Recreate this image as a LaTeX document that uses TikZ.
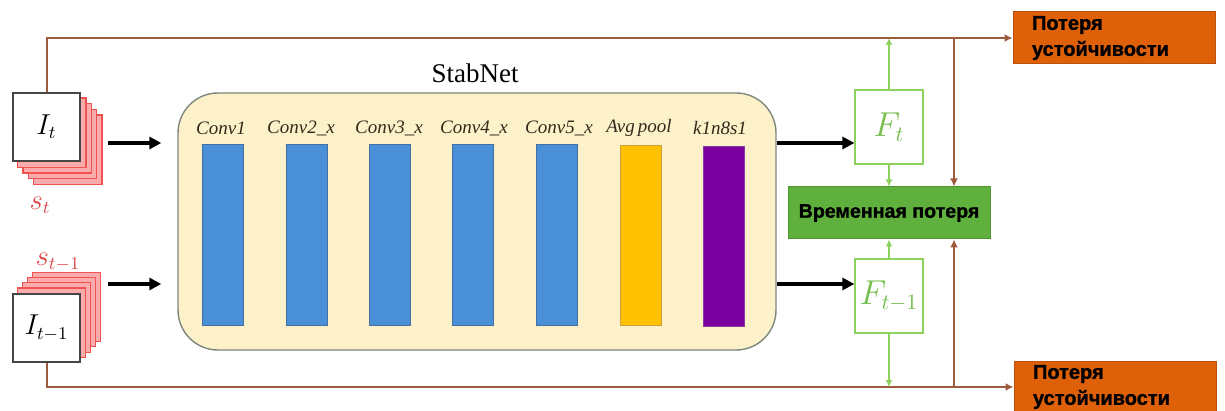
\documentclass[tikz,border=0pt]{standalone}
\usepackage{fontspec}
\setmainfont{Liberation Serif}
\newfontfamily\rusfont{Liberation Sans}[BoldFeatures={FakeBold=1.2}]
\usetikzlibrary{arrows.meta,backgrounds,calc}

\definecolor{brownline}{RGB}{156,92,60}
\definecolor{lossorange}{RGB}{222,96,8}
\definecolor{lossedge}{RGB}{190,80,10}
\definecolor{tgreen}{RGB}{96,176,62}
\definecolor{tgreenedge}{RGB}{80,150,50}
\definecolor{lgreen}{RGB}{140,210,92}
\definecolor{ftext}{RGB}{118,190,78}
\definecolor{barblue}{RGB}{74,144,217}
\definecolor{bluedge}{RGB}{70,110,160}
\definecolor{baryellow}{RGB}{255,192,0}
\definecolor{yellowedge}{RGB}{205,160,60}
\definecolor{barpurple}{RGB}{122,0,160}
\definecolor{purpleedge}{RGB}{140,60,160}
\definecolor{stabfill}{RGB}{253,241,202}
\definecolor{stabedge}{RGB}{125,135,125}
\definecolor{stackfill}{RGB}{250,172,172}
\definecolor{stackedge}{RGB}{240,82,82}
\definecolor{imgedge}{RGB}{70,70,70}
\definecolor{slabel}{RGB}{220,70,70}
\definecolor{convtext}{RGB}{50,42,25}

\tikzset{
  imgbox/.style={draw=imgedge, fill=white, line width=0.7pt, minimum width=33.5pt,
    minimum height=34pt, inner sep=0pt, font=\fontsize{13.5}{13.5}\selectfont},
  stacksheet/.style={draw=stackedge, fill=stackfill, line width=0.6pt},
  stabbox/.style={draw=stabedge, fill=stabfill, line width=0.7pt, rounded corners=20pt,
    minimum width=299pt, minimum height=128.5pt, inner sep=0pt},
  bar/.style={minimum width=20.5pt, minimum height=90pt, inner sep=0pt, line width=0.5pt},
  convlbl/.style={font=\itshape\fontsize{9.5}{10}\selectfont, text=convtext, inner sep=0pt},
  featbox/.style={draw=lgreen, fill=white, line width=0.6pt, minimum width=34pt,
    minimum height=37pt, inner sep=0pt, text=ftext, font=\fontsize{16}{16}\selectfont},
  temploss/.style={fill=tgreen, draw=tgreenedge, line width=0.5pt, minimum width=101pt,
    minimum height=26pt, inner sep=0pt, font=\rusfont\bfseries\fontsize{9.8}{11}\selectfont},
  lossbox/.style={fill=lossorange, draw=lossedge, line width=0.5pt, minimum height=26pt,
    text width=82pt, inner xsep=9.5pt, inner ysep=1.5pt, align=left,
    font=\rusfont\bfseries\fontsize{10}{13}\selectfont},
  feed/.style={line width=1.6pt, -{Triangle[length=6pt,width=6pt]}},
  brownarrow/.style={draw=brownline, line width=1pt, -{Latex[length=4pt,width=4pt]}},
  greenarrow/.style={draw=lgreen, line width=0.9pt, -{Latex[length=3.5pt,width=3.5pt]}},
  slbl/.style={text=slabel, font=\fontsize{13.5}{13.5}\selectfont, inner sep=0pt},
}

\begin{document}
\begin{tikzpicture}[x=0.5pt,y=-0.5pt]
\useasboundingbox (0,0) rectangle (1225,411);

% input frames with their saliency stacks
\node[imgbox] (It) at (46.5,127) {$I_t$};
\node[imgbox] (Itm) at (46.5,328) {$I_{t-1}$};
\begin{scope}[on background layer]
  \foreach \k in {4,3,2,1}
    \draw[stacksheet] ([shift={(\k*5.3,\k*5.7)}]It.north west) rectangle ([shift={(\k*5.3,\k*5.7)}]It.south east);
  \foreach \k in {4,3,2,1}
    \draw[stacksheet] ([shift={(\k*5,-\k*5.3)}]Itm.north west) rectangle ([shift={(\k*5,-\k*5.3)}]Itm.south east);
\end{scope}
\node[slbl] (st) at (40,205) {$s_t$};
\node[slbl] (stm) at (58,262) {$s_{t-1}$};

% StabNet backbone
\node[stabbox] (stab) at (477,221.5) {};
\node[font=\fontsize{13.5}{14}\selectfont, inner sep=0pt] (stabname) at (475,73) {StabNet};

\node[bar, fill=barblue, draw=bluedge] (c1) at (222.5,235) {};
\node[bar, fill=barblue, draw=bluedge] (c2) at (306.5,235) {};
\node[bar, fill=barblue, draw=bluedge] (c3) at (389.5,235) {};
\node[bar, fill=barblue, draw=bluedge] (c4) at (473,235) {};
\node[bar, fill=barblue, draw=bluedge] (c5) at (557,235) {};
\node[bar, fill=baryellow, draw=yellowedge] (ap) at (641,235.5) {};
\node[bar, fill=barpurple, draw=purpleedge] (kn) at (724,236.5) {};

\node[convlbl] (l1) at (221,128) {Conv1};
\node[convlbl] (l2) at (301,128) {Conv2\_x};
\node[convlbl] (l3) at (389,128) {Conv3\_x};
\node[convlbl] (l4) at (474,128) {Conv4\_x};
\node[convlbl] (l5) at (559,128) {Conv5\_x};
\node[convlbl] (l6) at (639,128) {Avg\,pool};
\node[convlbl] (l7) at (720,128) {k1n8s1};

% feature maps and losses
\node[featbox] (Ft) at (889,127) {$F_t$};
\node[featbox] (Ftm) at (889,296) {$F_{t-1}$};
\node[temploss] (temp) at (889,213) {Временная потеря};
\node[lossbox] (losstop) at (1114,38) {Потеря\\устойчивости};
\node[lossbox] (lossbot) at (1115,387) {Потеря\\устойчивости};

% feed arrows
\coordinate (rowA) at (0,143);
\coordinate (rowB) at (0,284);
\coordinate (inA) at (108,143);
\coordinate (inB) at (108,284);
\draw[feed, shorten >=8pt] (inA) -- (stab.west |- rowA);
\draw[feed, shorten >=8pt] (inB) -- (stab.west |- rowB);
\draw[feed] (stab.east |- rowA) -- (Ft.west |- rowA);
\draw[feed] (stab.east |- rowB) -- (Ftm.west |- rowB);

% stability-loss paths
\draw[brownarrow] (It.north) |- (losstop.west);
\draw[brownarrow] (Itm.south) |- (lossbot.west);
\coordinate (tapT) at (954,38);
\coordinate (tapB) at (954,387);
\draw[brownarrow] (tapT) -- (tapT |- temp.north);
\draw[brownarrow] (tapB) -- (tapB |- temp.south);

% feature flows
\draw[greenarrow] (Ft.north) -- (Ft.north |- tapT);
\draw[greenarrow] (Ft.south) -- (temp.north);
\draw[greenarrow] (Ftm.north) -- (temp.south);
\draw[greenarrow] (Ftm.south) -- (Ftm.south |- tapB);
\end{tikzpicture}
\end{document}
